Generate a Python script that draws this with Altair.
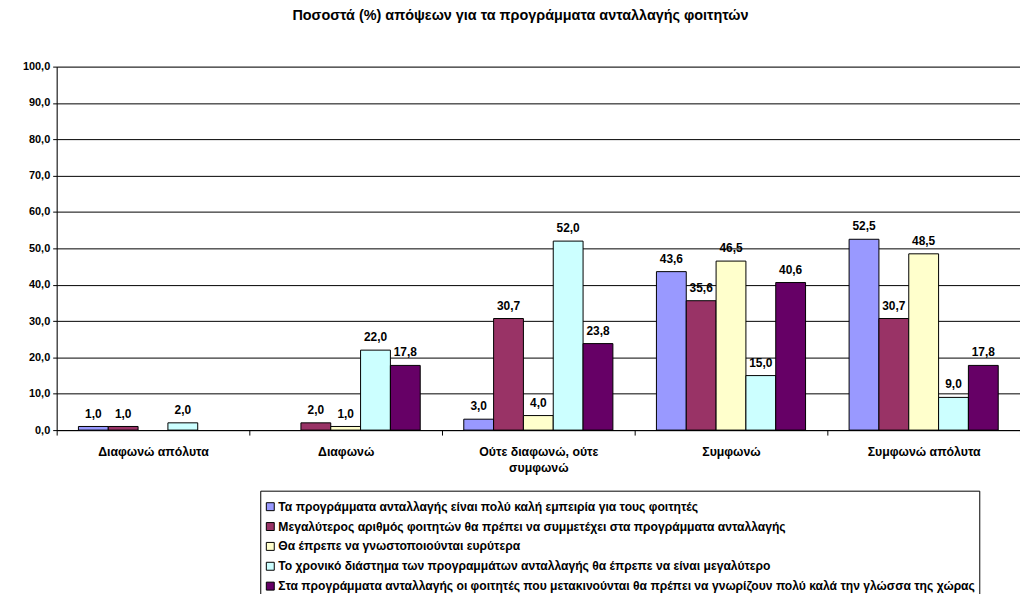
import altair as alt
import pandas as pd

categories = ["Διαφωνώ απόλυτα", "Διαφωνώ", "Ούτε διαφωνώ, ούτε συμφωνώ", "Συμφωνώ", "Συμφωνώ απόλυτα"]

series = [
    "Τα προγράμματα ανταλλαγής είναι πολύ καλή εμπειρία για τους φοιτητές",
    "Μεγαλύτερος αριθμός φοιτητών θα πρέπει να συμμετέχει στα προγράμματα ανταλλαγής",
    "Θα έπρεπε να γνωστοποιούνται ευρύτερα",
    "Το χρονικό διάστημα των προγραμμάτων ανταλλαγής θα έπρεπε να είναι μεγαλύτερο",
    "Στα προγράμματα ανταλλαγής οι φοιτητές που μετακινούνται θα πρέπει να γνωρίζουν πολύ καλά την γλώσσα της χώρας",
]

s1 = [1.0, None, 3.0, 43.6, 52.5]
s2 = [1.0, 2.0, 30.7, 35.6, 30.7]
s3 = [None, 1.0, 4.0, 46.5, 48.5]
s4 = [2.0, 22.0, 52.0, 15.0, 9.0]
s5 = [None, 17.8, 23.8, 40.6, 17.8]

colors = ["#9999FF", "#993366", "#FFFFCC", "#CCFFFF", "#660066"]

rows = []
for name, vals in zip(series, [s1, s2, s3, s4, s5]):
    for cat, v in zip(categories, vals):
        if v is None:
            continue
        rows.append({"cat": cat, "series": name, "value": v,
                     "label": f"{v:.1f}".replace(".", ",")})
df = pd.DataFrame(rows)

FONT = "Liberation Sans"

x_enc = alt.X("cat:N", sort=categories, title=None,
              scale=alt.Scale(paddingInner=0, paddingOuter=0),
              axis=alt.Axis(labelAngle=0, labelFont=FONT, labelFontSize=12.4,
                            labelFontWeight="bold", labelColor="black",
                            tickBand="extent", tickSize=5, tickColor="black",
                            domainColor="black", labelPadding=11, labelLineHeight=16,
                            labelLimit=300,
                            labelExpr="datum.value == 'Ούτε διαφωνώ, ούτε συμφωνώ' ? ['Ούτε διαφωνώ, ούτε', 'συμφωνώ'] : datum.value"))
xoff = alt.XOffset("series:N", sort=series,
                   scale=alt.Scale(paddingInner=0, paddingOuter=0.73))
y_enc = alt.Y("value:Q", title=None,
              scale=alt.Scale(domain=[0, 100], nice=False),
              axis=alt.Axis(values=list(range(0, 101, 10)), labelOverlap=False,
                            labelExpr="replace(format(datum.value, '.1f'), '.', ',')",
                            labelFont=FONT, labelFontSize=11, labelFontWeight="bold",
                            labelColor="black", tickSize=4, tickColor="black",
                            domainColor="black", gridColor="black", gridWidth=1,
                            labelPadding=3))

bars = alt.Chart(df).mark_bar(stroke="black", strokeWidth=1).encode(
    x=x_enc, xOffset=xoff, y=y_enc,
    color=alt.Color("series:N", sort=series,
                    scale=alt.Scale(domain=series, range=colors),
                    legend=alt.Legend(orient="none", legendX=205, legendY=427,
                                      title=" ", titleFontSize=6, titlePadding=0,
                                      strokeColor="black", fillColor="white",
                                      padding=4, symbolType="square", symbolSize=64,
                                      symbolStrokeColor="black", symbolStrokeWidth=1,
                                      labelFont=FONT, labelFontSize=12.2,
                                      labelFontWeight="bold", labelColor="black",
                                      labelLimit=1000, rowPadding=7, labelOffset=2,
                                      cornerRadius=0)),
)

labels = alt.Chart(df).mark_text(font=FONT, fontSize=12, fontWeight="bold",
                                 color="black", baseline="alphabetic", dy=-9).encode(
    x=x_enc, xOffset=xoff, y=y_enc, text="label:N",
)

chart = alt.layer(bars, labels).properties(
    width=970, height=366,
    title=alt.TitleParams("Ποσοστά (%) απόψεων για τα προγράμματα ανταλλαγής φοιτητών",
                          font=FONT, fontSize=14.5, fontWeight="bold", color="black",
                          anchor="middle", offset=37, dx=-18),
    autosize=alt.AutoSizeParams(type="none"),
    padding={"left": 49, "top": 57, "right": 0, "bottom": 163},
).configure_view(strokeWidth=0).configure(background="white")

chart.save("out.html", embed_options={"renderer": "svg", "actions": False})
